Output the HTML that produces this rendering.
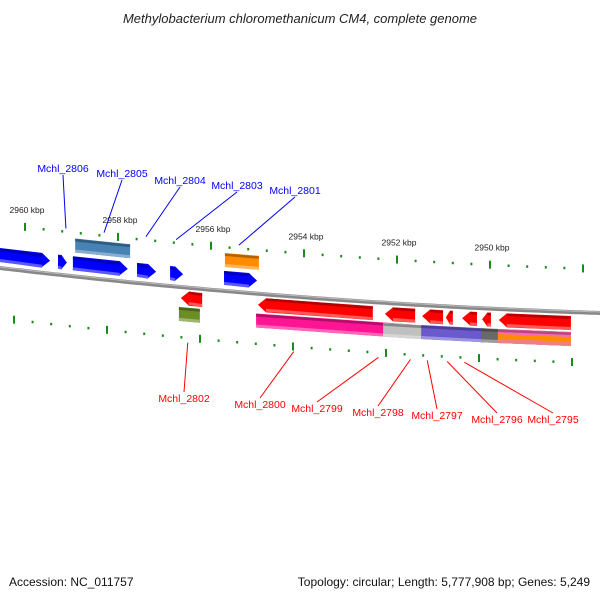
<!DOCTYPE html>
<html><head><meta charset="utf-8"><style>
body{margin:0;background:#fff}
svg{display:block;font-family:"Liberation Sans",sans-serif}
</style></head><body>
<svg id="c" width="600" height="600" viewBox="0 0 600 600">
<text x="300" y="23" text-anchor="middle" font-size="13" font-style="italic" fill="#222">Methylobacterium chloromethanicum CM4, complete genome</text>
<text x="9" y="586" font-size="12" fill="#111">Accession: NC_011757</text>
<text x="590" y="586" font-size="12" fill="#111" text-anchor="end">Topology: circular; Length: 5,777,908 bp; Genes: 5,249</text>
<g id="g"></g>
</svg>
<script>
const tickKbp=[2960,2958,2956,2954,2952,2950,2948];
const tickLabels=["2960 kbp","2958 kbp","2956 kbp","2954 kbp","2952 kbp","2950 kbp",""];
// genes: name, start kbp, end kbp, strand, row, color
const geneNames=["g1","g2","g3","g4","g5","Mchl_2801","g6","g7",
 "Mchl_2802","Mchl_2800","b1","b2","b3","b4","b5","b6","o1","o2","o3","o4","o5","o6"];
const geneStart=[2960.54,2959.29,2958.97,2957.59,2956.88,2955.72,2958.92,2955.70,
 2956.65,2954.99,2952.26,2951.46,2950.95,2950.60,2950.17,2949.81,2956.69,2955.03,2952.30,2951.48,2950.19,2949.83];
const geneEnd=[2959.46,2959.10,2957.79,2957.18,2956.60,2955.01,2957.74,2954.97,
 2956.19,2952.52,2951.61,2951.01,2950.80,2950.28,2949.98,2948.26,2956.24,2951.63,2951.03,2949.99,2948.26,2948.26];
const geneStrand=[1,1,1,1,1,1,1,1,-1,-1,-1,-1,-1,-1,-1,-1,-1,-1,-1,-1,-1,-1];
const geneRow=[0,0,0,0,0,0,1,1,0,0,0,0,0,0,0,0,1,1,1,1,1,1];
const geneColor=["#0000ff","#0000ff","#0000ff","#0000ff","#0000ff","#0000ff","#4682b4","#ff8c00",
 "#ff0000","#ff0000","#ff0000","#ff0000","#ff0000","#ff0000","#ff0000","#ff0000","#6b8e23","#ff1493","#c0c0c0","#6a5acd","#696969","#ff69b4"];
const labelNames=["Mchl_2806","Mchl_2805","Mchl_2804","Mchl_2803","Mchl_2801","Mchl_2802","Mchl_2800","Mchl_2799","Mchl_2798","Mchl_2797","Mchl_2796","Mchl_2795"];
const labelKbp=[2959.12,2958.30,2957.40,2956.75,2955.40,2956.50,2954.22,2952.40,2951.71,2951.35,2950.92,2950.55];
const labelTextX=[63,122,180,237,295,184,260,317,378,437,497,553];
const labelTextY=[172,177,184,189,194,402,408,412,416,419,423,423];

const NS="http://www.w3.org/2000/svg";
const G=document.getElementById('g');
function xs(k){return 25+(2960-k)*46.5;}
function yb(x){return 268+0.1183*x-7.22e-5*x*x;}
function mk(t,a){const e=document.createElementNS(NS,t);for(const k in a)e.setAttribute(k,a[k]);G.appendChild(e);return e;}

// backbone
let d="";for(let x=-5;x<=605;x+=5)d+=(x<0?"M":"L")+x+","+yb(x).toFixed(1)+" ";
let bb=mk('path',{d:d,stroke:'#888',"stroke-width":4,fill:'none'});


mk('path',{d:d,stroke:'#bbb',"stroke-width":1,fill:'none',transform:'translate(0,-1)'});

// ticks
for(let i=0;i<tickKbp.length-1;i++){
 for(let j=0;j<5;j++){
  const k=tickKbp[i]-j*0.4;
  [[-44,0],[50,-11]].forEach(([off,sh],s)=>{
   const x=xs(k)+sh,y=yb(x)+off;
   let r;
   if(j==0){r=mk('rect',{x:x-1,y:y-4,width:2,height:8,fill:'#1a8a1a'});}
   else{r=mk('rect',{x:x-1,y:y-1,width:2,height:2.5,fill:'#1a8a1a'});}
   
   
  });
 }
 if(tickLabels[i]){
  const x=xs(tickKbp[i])+2,y=yb(x)-44-14;
  const t=mk('text',{x:x,y:y,"font-size":8.5,"text-anchor":"middle",fill:'#222'});
  t.textContent=tickLabels[i];
  
  
 }
}
{const x=xs(2948)-11;mk('rect',{x:x-1,y:yb(x)+46,width:2,height:8,fill:'#1a8a1a'});
 const x2=xs(2948);mk('rect',{x:x2-1,y:yb(x2)-48,width:2,height:8,fill:'#1a8a1a'});}

// genes
function shade(c,f){const n=parseInt(c.slice(1),16);let r=n>>16,g=(n>>8)&255,b=n&255;
 const m=v=>Math.round(f<0?v*(1+f):v+(255-v)*f);return `rgb(${m(r)},${m(g)},${m(b)})`;}
for(let i=0;i<geneNames.length;i++){
 const x1=xs(geneStart[i]),x2=xs(geneEnd[i]);
 const s=geneStrand[i],row=geneRow[i];
 const o1=s>0?(row?-38:-20):(row?20:4);
 const h=14;
 const y1=yb(x1)+o1,y2=yb(x2)+o1;
 const head=Math.min(8,(x2-x1)*0.6);
 let p;
 if(row==1){p=`${x1},${y1} ${x2},${y2} ${x2},${y2+h} ${x1},${y1+h}`;}
 else if(s>0){const xh=x2-head,yh=yb(xh)+o1;
  p=`${x1},${y1} ${xh},${yh} ${x2},${y2+h/2} ${xh},${yh+h} ${x1},${y1+h}`;}
 else{const xh=x1+head,yh=yb(xh)+o1;
  p=`${x1},${y1+h/2} ${xh},${yh} ${x2},${y2} ${x2},${y2+h} ${xh},${yh+h}`;}
 const e=mk('polygon',{points:p,fill:geneColor[i]});
 
 
 mk('polygon',{points:`${x1+(s<0&&row==0?head:0)},${y1+0.5} ${x2-(s>0&&row==0?head:0)},${y2+0.5} ${x2-(s>0&&row==0?head:0)},${y2+3} ${x1+(s<0&&row==0?head:0)},${y1+3}`,fill:shade(geneColor[i],-0.3)});
 mk('polygon',{points:`${x1+(s<0&&row==0?head:0)},${y1+h-3} ${x2-(s>0&&row==0?head:0)},${y2+h-3} ${x2-(s>0&&row==0?head:0)},${y2+h} ${x1+(s<0&&row==0?head:0)},${y1+h}`,fill:shade(geneColor[i],0.35)});
 if(i==geneNames.length-1){
  mk('polygon',{points:`${x1},${y1+5} ${x2},${y2+5} ${x2},${y2+10} ${x1},${y1+10}`,fill:'#ff8c00'});
  mk('polygon',{points:`${x1},${y1+10} ${x2},${y2+10} ${x2},${y2+14} ${x1},${y1+14}`,fill:'#f08080'});
 }
}

// labels
for(let i=0;i<labelNames.length;i++){
 const top=i<5,col=top?'#0000ff':'#ff0000';
 const x=xs(labelKbp[i]);
 const y=yb(x)+(top?-47:55);
 const tx=labelTextX[i],ty=labelTextY[i];
 const l=mk('line',{x1:x,y1:y,x2:tx,y2:top?ty+3:ty-10,stroke:col,"stroke-width":1});
 
 
 const t=mk('text',{x:tx,y:ty,"font-size":10.5,"text-anchor":"middle",fill:col});
 t.textContent=labelNames[i];
 
 
}
</script>
</body></html>
